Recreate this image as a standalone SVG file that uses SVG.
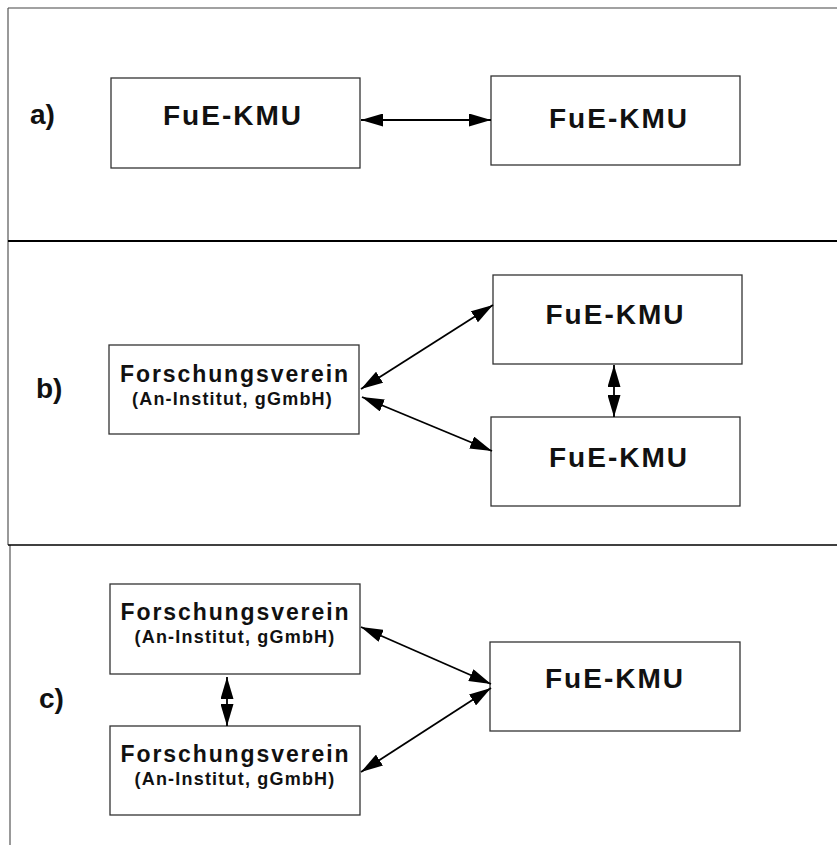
<svg xmlns="http://www.w3.org/2000/svg" width="837" height="845" viewBox="0 0 837 845">
<style>
.box{fill:#fff;stroke:#333;stroke-width:1.3}
.t1{font-family:"Liberation Sans",Arial,sans-serif;font-weight:bold;font-size:28px;letter-spacing:2px;fill:#111;text-anchor:middle}
.t2{font-family:"Liberation Sans",Arial,sans-serif;font-weight:bold;font-size:23px;letter-spacing:1.9px;fill:#111;text-anchor:middle}
.t3{font-family:"Liberation Sans",Arial,sans-serif;font-weight:bold;font-size:18px;letter-spacing:1.2px;fill:#111;text-anchor:middle}
.lbl{font-family:"Liberation Sans",Arial,sans-serif;font-weight:bold;font-size:28px;fill:#111}
.con{stroke:#000;stroke-width:1.8;fill:none;marker-start:url(#ah);marker-end:url(#ah)}
</style>
<defs>
<marker id="ah" markerUnits="userSpaceOnUse" markerWidth="22" markerHeight="13" refX="22" refY="6.5" orient="auto-start-reverse" viewBox="0 0 22 13">
<path d="M0,0 L22,6.5 L0,13 z" fill="#000"/>
</marker>
</defs>
<rect width="837" height="845" fill="#fff"/>
<g id="frame">
<line x1="8" y1="8" x2="837" y2="8" stroke="#444" stroke-width="1.2"/>
<line x1="8" y1="8" x2="8" y2="545" stroke="#555" stroke-width="1.2"/>
<line x1="10" y1="545" x2="10" y2="845" stroke="#555" stroke-width="1.2"/>
<line x1="8" y1="241" x2="837" y2="241" stroke="#000" stroke-width="2"/>
<line x1="8" y1="545" x2="837" y2="545" stroke="#000" stroke-width="1.6"/>
</g>
<g id="labels">
<text class="lbl" x="30" y="124">a)</text>
<text class="lbl" x="36" y="398">b)</text>
<text class="lbl" x="39" y="708">c)</text>
</g>
<g id="a-kmu1"><rect class="box" x="111" y="78" width="249" height="90"/><text class="t1" x="233" y="125">FuE-KMU</text></g>
<g id="a-kmu2"><rect class="box" x="491" y="76" width="249" height="89"/><text class="t1" x="619" y="128">FuE-KMU</text></g>
<g id="b-fv"><rect class="box" x="109" y="345" width="250" height="89"/><text class="t2" x="235" y="381.5">Forschungsverein</text><text class="t3" x="232.5" y="405">(An-Institut, gGmbH)</text></g>
<g id="b-kmu1"><rect class="box" x="493" y="275" width="249" height="89"/><text class="t1" x="615.5" y="324">FuE-KMU</text></g>
<g id="b-kmu2"><rect class="box" x="491" y="417" width="249" height="89"/><text class="t1" x="619" y="467">FuE-KMU</text></g>
<g id="c-fv1"><rect class="box" x="110" y="584" width="250" height="90"/><text class="t2" x="235.5" y="620">Forschungsverein</text><text class="t3" x="235" y="643">(An-Institut, gGmbH)</text></g>
<g id="c-fv2"><rect class="box" x="110" y="726" width="250" height="89"/><text class="t2" x="235.5" y="761.5">Forschungsverein</text><text class="t3" x="235" y="785">(An-Institut, gGmbH)</text></g>
<g id="c-kmu"><rect class="box" x="490" y="642" width="250" height="89"/><text class="t1" x="615" y="688">FuE-KMU</text></g>
<g id="connectors">
<line class="con" x1="361" y1="120" x2="491" y2="120"/>
<line class="con" x1="361" y1="389" x2="493" y2="305"/>
<line class="con" x1="362" y1="397" x2="492" y2="451"/>
<line class="con" x1="614" y1="365" x2="614" y2="417"/>
<line class="con" x1="361" y1="627" x2="491" y2="684"/>
<line class="con" x1="491" y1="688" x2="361" y2="772"/>
<line class="con" x1="227" y1="677" x2="227" y2="726"/>
</g>
</svg>
